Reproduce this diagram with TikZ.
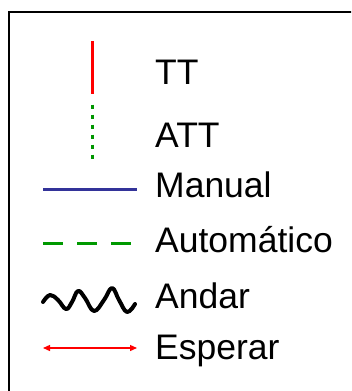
\documentclass[tikz,border=0pt]{standalone}
\usepackage{fontspec}
\setmainfont{Liberation Sans}
\usetikzlibrary{arrows.meta}
\definecolor{manblue}{RGB}{51,51,153}
\definecolor{autogreen}{RGB}{0,153,0}
\definecolor{attgreen}{RGB}{0,150,0}
\begin{document}
\begin{tikzpicture}[x=1pt,y=-1pt,
  lbl/.style={anchor=base west,inner sep=0pt,font=\fontsize{35.5}{42}\selectfont},
  keyline/.style={line width=3pt}]
\useasboundingbox (0,0) rectangle (351,391);
\clip (0,0) rectangle (351,391);
\fill[white] (0,0) rectangle (351,391);
\draw[line width=1.8pt] (9,12) rectangle (370,420);
% TT
\coordinate (tt1) at (92.5,41);
\coordinate (tt2) at (92.5,94);
\draw[red,line width=3.5pt] (tt1) -- (tt2);
\node[lbl] (ttl) at (155,84) {TT};
% ATT
\coordinate (at1) at (92.5,104.5);
\coordinate (at2) at (92.5,159);
\draw[attgreen,line width=3.5pt,dash pattern=on 4.5pt off 5.5pt] (at1) -- (at2);
\node[lbl] (attl) at (155,147) {ATT};
% Manual
\coordinate (m1) at (43,189);
\coordinate (m2) at (137,189);
\draw[manblue,keyline] (m1) -- (m2);
\node[lbl] (ml) at (155,197) {Manual};
% Automatico
\coordinate (a1) at (43,243);
\coordinate (a2) at (134,243);
\draw[autogreen,keyline,dash pattern=on 20pt off 14pt] (a1) -- (a2);
\node[lbl] (al) at (155,252) {Automático};
% Andar
\draw[line width=4pt,line cap=round,line join=round] plot[smooth,tension=0.7] coordinates
  {(43,302) (50,295) (58,300) (66,309) (72,302) (78,291) (85,298) (94,311) (104,300) (112,288) (119,300) (127,312) (135,304)};
\node[lbl] (anl) at (155,308) {Andar};
% Esperar
\coordinate (e1) at (43,348);
\coordinate (e2) at (137,348);
\draw[red,line width=1.3pt,{Triangle[length=7pt,width=6pt]}-{Triangle[length=7pt,width=6pt]}] (e1) -- (e2);
\node[lbl] (el) at (155,359) {Esperar};
\end{tikzpicture}
\end{document}
